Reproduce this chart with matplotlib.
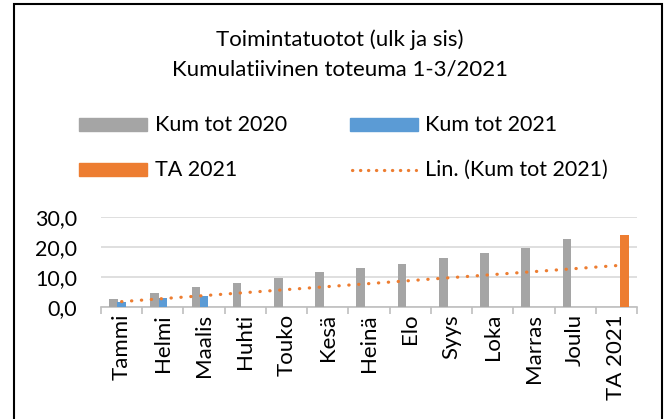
import numpy as np
import matplotlib
matplotlib.use("Agg")
from matplotlib import pyplot as plt
from matplotlib.patches import Rectangle
from matplotlib.lines import Line2D
from matplotlib.ticker import FuncFormatter, FixedLocator

plt.rcParams['font.family'] = ['Lato', 'DejaVu Sans']

# data
categories = ['Tammi', 'Helmi', 'Maalis', 'Huhti', 'Touko', 'Kesä', 'Heinä',
              'Elo', 'Syys', 'Loka', 'Marras', 'Joulu', 'TA 2021']
kum_2020 = [2.7, 4.8, 6.7, 7.9, 9.7, 11.6, 12.9, 14.4, 16.4, 18.1, 19.6, 22.6]
kum_2021 = [1.7, 3.0, 3.7]
ta_2021 = [23.9]

GRAY = '#A5A5A5'
BLUE = '#5B9BD5'
ORANGE = '#ED7D31'

W, H = 668, 419
fig = plt.figure(figsize=(W / 100, H / 100), dpi=100)
ax = fig.add_axes([101 / W, 1 - 307 / H, (637 - 101) / W, (307 - 217) / H])

x = np.arange(len(categories))
bw = 0.21
ax.bar(x[:len(kum_2020)] - 0.2, kum_2020, bw, color=GRAY, zorder=3)
ax.bar(x[:len(kum_2021)], kum_2021, bw, color=BLUE, zorder=3)
ax.bar(x[-1:] + 0.2, ta_2021, bw, color=ORANGE, zorder=3)

# linear trend of Kum tot 2021 across all categories
k, b = np.polyfit(np.arange(1, len(kum_2021) + 1), kum_2021, 1)
trend = k * (x + 1) + b
ax.plot(x, trend, color=ORANGE, lw=2.3, linestyle=(0, (0.1, 3.0)),
        dash_capstyle='round', zorder=4)

ax.set_xlim(-0.5, len(categories) - 0.5)
ax.set_ylim(0, 30)
ax.set_yticks([0, 10, 20, 30])
ax.yaxis.set_major_formatter(FuncFormatter(lambda v, p: f'{v:.1f}'.replace('.', ',')))
ax.grid(axis='y', color='#D9D9D9', lw=1.2, zorder=0)
ax.set_axisbelow(True)

ax.set_xticks(x)
ax.set_xticklabels(categories, rotation=90, fontsize=16)
ax.xaxis.set_minor_locator(FixedLocator(np.arange(-0.5, len(categories), 1.0)))
ax.tick_params(axis='x', which='major', length=0, pad=5)
ax.tick_params(axis='x', which='minor', length=5, color='#BFBFBF', width=1.2)
ax.tick_params(axis='y', length=0, labelsize=15.5, pad=17)

for s in ['top', 'right', 'left']:
    ax.spines[s].set_visible(False)
ax.spines['bottom'].set_color('#BFBFBF')
ax.spines['bottom'].set_linewidth(1.2)

# title
fig.text(340 / W, 1 - 40 / H, 'Toimintatuotot (ulk ja sis)', ha='center', va='center', fontsize=16)
fig.text(340 / W, 1 - 70 / H, 'Kumulatiivinen toteuma 1-3/2021', ha='center', va='center', fontsize=16)

# legend
def leg_patch(x0, yc, color):
    fig.patches.append(Rectangle((x0 / W, 1 - (yc + 6.5) / H), 68 / W, 13 / H,
                                 transform=fig.transFigure, color=color))

leg_patch(79, 125, GRAY)
fig.text(155 / W, 1 - 125 / H, 'Kum tot 2020', va='center', fontsize=15.5)
leg_patch(350, 125, BLUE)
fig.text(425 / W, 1 - 125 / H, 'Kum tot 2021', va='center', fontsize=15.5)
leg_patch(79, 170, ORANGE)
fig.text(155 / W, 1 - 170 / H, 'TA 2021', va='center', fontsize=15.5)
fig.lines.append(Line2D([352 / W, 416 / W], [1 - 170 / H, 1 - 170 / H],
                        transform=fig.transFigure, color=ORANGE, lw=2.3,
                        linestyle=(0, (0.1, 2.4)), dash_capstyle='round'))
fig.text(425 / W, 1 - 170 / H, 'Lin. (Kum tot 2021)', va='center', fontsize=15.5)

# chart border
fig.patches.append(Rectangle((14 / W, -0.05), (662 - 14) / W, 1.05 - 4 / H,
                             transform=fig.transFigure, fill=False,
                             edgecolor='black', lw=1.5))

fig.savefig('out.png', dpi=100)
